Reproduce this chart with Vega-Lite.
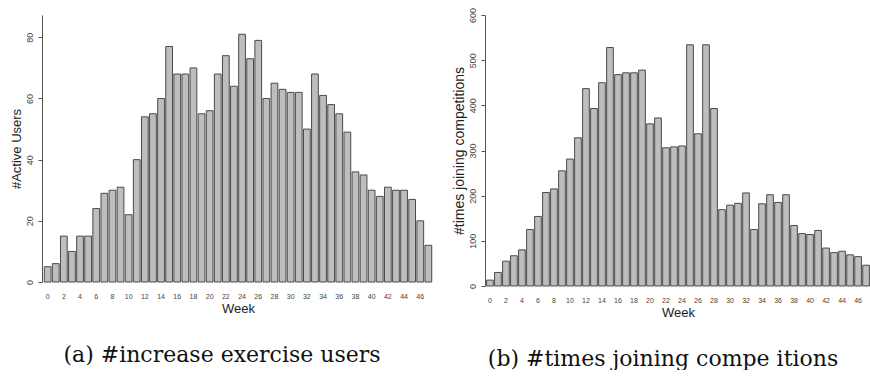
{
  "$schema": "https://vega.github.io/schema/vega-lite/v6.json",
  "autosize": {"type": "pad"},
  "padding": {"left": 10, "top": 7, "right": 0, "bottom": 0},
  "background": "white",
  "bounds": "flush",
  "spacing": 51,
  "datasets": {
    "a": [
      {"week": 0, "v": 5}, {"week": 1, "v": 6}, {"week": 2, "v": 15}, {"week": 3, "v": 10},
      {"week": 4, "v": 15}, {"week": 5, "v": 15}, {"week": 6, "v": 24}, {"week": 7, "v": 29},
      {"week": 8, "v": 30}, {"week": 9, "v": 31}, {"week": 10, "v": 22}, {"week": 11, "v": 40},
      {"week": 12, "v": 54}, {"week": 13, "v": 55}, {"week": 14, "v": 60}, {"week": 15, "v": 77},
      {"week": 16, "v": 68}, {"week": 17, "v": 68}, {"week": 18, "v": 70}, {"week": 19, "v": 55},
      {"week": 20, "v": 56}, {"week": 21, "v": 68}, {"week": 22, "v": 74}, {"week": 23, "v": 64},
      {"week": 24, "v": 81}, {"week": 25, "v": 73}, {"week": 26, "v": 79}, {"week": 27, "v": 60},
      {"week": 28, "v": 65}, {"week": 29, "v": 63}, {"week": 30, "v": 62}, {"week": 31, "v": 62},
      {"week": 32, "v": 50}, {"week": 33, "v": 68}, {"week": 34, "v": 61}, {"week": 35, "v": 58},
      {"week": 36, "v": 55}, {"week": 37, "v": 49}, {"week": 38, "v": 36}, {"week": 39, "v": 35},
      {"week": 40, "v": 30}, {"week": 41, "v": 28}, {"week": 42, "v": 31}, {"week": 43, "v": 30},
      {"week": 44, "v": 30}, {"week": 45, "v": 27}, {"week": 46, "v": 20}, {"week": 47, "v": 12}
    ],
    "b": [
      {"week": 0, "v": 13}, {"week": 1, "v": 30}, {"week": 2, "v": 55}, {"week": 3, "v": 67},
      {"week": 4, "v": 80}, {"week": 5, "v": 125}, {"week": 6, "v": 154}, {"week": 7, "v": 207},
      {"week": 8, "v": 215}, {"week": 9, "v": 255}, {"week": 10, "v": 281}, {"week": 11, "v": 328},
      {"week": 12, "v": 437}, {"week": 13, "v": 393}, {"week": 14, "v": 450}, {"week": 15, "v": 528},
      {"week": 16, "v": 468}, {"week": 17, "v": 472}, {"week": 18, "v": 472}, {"week": 19, "v": 478},
      {"week": 20, "v": 359}, {"week": 21, "v": 372}, {"week": 22, "v": 306}, {"week": 23, "v": 308},
      {"week": 24, "v": 310}, {"week": 25, "v": 534}, {"week": 26, "v": 337}, {"week": 27, "v": 534},
      {"week": 28, "v": 393}, {"week": 29, "v": 169}, {"week": 30, "v": 179}, {"week": 31, "v": 183},
      {"week": 32, "v": 206}, {"week": 33, "v": 125}, {"week": 34, "v": 182}, {"week": 35, "v": 202},
      {"week": 36, "v": 185}, {"week": 37, "v": 202}, {"week": 38, "v": 134}, {"week": 39, "v": 116},
      {"week": 40, "v": 114}, {"week": 41, "v": 123}, {"week": 42, "v": 84}, {"week": 43, "v": 74},
      {"week": 44, "v": 77}, {"week": 45, "v": 69}, {"week": 46, "v": 65}, {"week": 47, "v": 46}
    ]
  },
  "config": {
    "view": {"stroke": null},
    "axis": {
      "labelFont": "Liberation Sans",
      "titleFont": "Liberation Sans",
      "labelColor": "#444444",
      "titleColor": "#222222",
      "titleFontWeight": "normal",
      "grid": false
    },
    "axisX": {
      "domain": false,
      "ticks": false,
      "labelFontSize": 7,
      "labelPadding": 10,
      "labelAngle": 0,
      "titleFontSize": 13,
      "titlePadding": 3
    },
    "axisY": {
      "domainColor": "#555555",
      "tickColor": "#555555",
      "tickSize": 4,
      "labelFontSize": 9,
      "labelAngle": -90,
      "labelPadding": 4,
      "titleFontSize": 13,
      "titlePadding": 2
    },
    "title": {
      "orient": "bottom",
      "font": "DejaVu Serif",
      "fontSize": 22,
      "fontWeight": "normal",
      "color": "#111111",
      "anchor": "middle",
      "baseline": "middle",
      "offset": 30
    }
  },
  "hconcat": [
    {
      "data": {"name": "a"},
      "width": 392,
      "height": 267,
      "title": {"text": "(a) #increase exercise users", "dx": -16},
      "mark": {"type": "bar", "fill": "#bebebe", "stroke": "#4a4a4a", "strokeWidth": 1},
      "encoding": {
        "x": {
          "field": "week", "type": "ordinal", "title": "Week",
          "scale": {"paddingInner": 0.167, "paddingOuter": 0.28},
          "axis": {"values": [0,2,4,6,8,10,12,14,16,18,20,22,24,26,28,30,32,34,36,38,40,42,44,46]}
        },
        "y": {
          "field": "v", "type": "quantitative", "title": "#Active Users",
          "scale": {"domain": [0, 87.3], "nice": false},
          "axis": {"values": [0, 20, 40, 60, 80]}
        }
      }
    },
    {
      "data": {"name": "b"},
      "width": 386,
      "height": 271,
      "title": {"text": "(b) #times joining compe itions", "dx": -15},
      "mark": {"type": "bar", "fill": "#bebebe", "stroke": "#4a4a4a", "strokeWidth": 1},
      "encoding": {
        "x": {
          "field": "week", "type": "ordinal", "title": "Week",
          "scale": {"paddingInner": 0.167, "paddingOuter": 0.2},
          "axis": {"values": [0,2,4,6,8,10,12,14,16,18,20,22,24,26,28,30,32,34,36,38,40,42,44,46]}
        },
        "y": {
          "field": "v", "type": "quantitative", "title": "#times joining competitions",
          "scale": {"domain": [0, 600], "nice": false},
          "axis": {"values": [0, 100, 200, 300, 400, 500, 600], "titleFontSize": 14}
        }
      }
    }
  ]
}
